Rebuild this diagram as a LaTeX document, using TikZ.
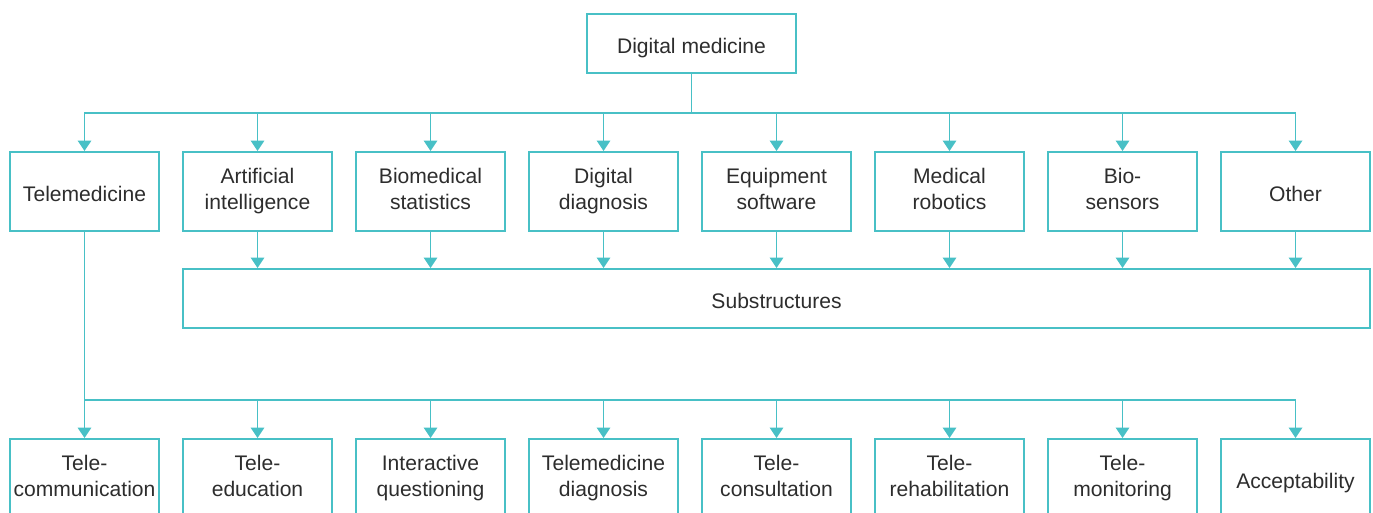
\documentclass[tikz,border=0pt]{standalone}
\usepackage{fontspec}
\setmainfont{Liberation Sans}
\usetikzlibrary{arrows.meta}
\definecolor{teal}{RGB}{72,192,198}
\definecolor{ink}{RGB}{45,45,45}
\newcommand{\boxstrut}{\rule[-3.2pt]{0pt}{17.9pt}}

\begin{document}
\begin{tikzpicture}[
    box/.style={draw=teal, line width=1.1pt, text=ink, align=center, inner sep=0pt,
        minimum width=2.98cm, minimum height=1.58cm,
        font=\fontsize{12}{14.8}\selectfont,
        execute at begin node=\boxstrut, execute at end node=\boxstrut},
    wide/.style={box, minimum height=1.18cm},
    link/.style={draw=teal, line width=1pt},
    tip/.style={link, -{Triangle[width=0.27cm, length=0.21cm]}}]
    \useasboundingbox (0, 0) rectangle (27.46, 10.24);

    \path (13.83, 9.37) node [wide, minimum width=4.18cm] (dm) {Digital medicine};

    \path (1.69, 6.41) node [box] (tm) {Telemedicine};
    \path (5.15, 6.41) node [box] (ai) {Artificial\\intelligence};
    \path (8.61, 6.41) node [box] (bs) {Biomedical\\statistics};
    \path (12.07, 6.41) node [box] (dd) {Digital\\diagnosis};
    \path (15.53, 6.41) node [box] (es) {Equipment\\software};
    \path (18.99, 6.41) node [box] (mr) {Medical\\robotics};
    \path (22.45, 6.41) node [box] (bi) {Bio-\\sensors};
    \path (25.91, 6.41) node [box] (ot) {Other};

    \path (15.53, 4.27) node [wide, minimum width=23.74cm] (sub) {Substructures};

    \path (1.69, 0.67) node [box] (tc) {Tele-\\communication};
    \path (5.15, 0.67) node [box] (te) {Tele-\\education};
    \path (8.61, 0.67) node [box] (iq) {Interactive\\questioning};
    \path (12.07, 0.67) node [box] (td) {Telemedicine\\diagnosis};
    \path (15.53, 0.67) node [box] (tcs) {Tele-\\consultation};
    \path (18.99, 0.67) node [box] (tr) {Tele-\\rehabilitation};
    \path (22.45, 0.67) node [box] (tmo) {Tele-\\monitoring};
    \path (25.91, 0.67) node [box] (ac) {Acceptability};

    % top level split
    \coordinate (bus) at (13.83, 7.98);
    \draw [link] (dm) -- (bus);
    \draw [tip] (bus) -| (tm.north);
    \draw [tip] (bus) -| (ai.north);
    \draw [tip] (bus) -| (bs.north);
    \draw [tip] (bus) -| (dd.north);
    \draw [tip] (bus) -| (es.north);
    \draw [tip] (bus) -| (mr.north);
    \draw [tip] (bus) -| (bi.north);
    \draw [tip] (bus) -| (ot.north);

    % into substructures
    \draw [tip] (ai) -- (ai |- sub.north);
    \draw [tip] (bs) -- (bs |- sub.north);
    \draw [tip] (dd) -- (dd |- sub.north);
    \draw [tip] (es) -- (es |- sub.north);
    \draw [tip] (mr) -- (mr |- sub.north);
    \draw [tip] (bi) -- (bi |- sub.north);
    \draw [tip] (ot) -- (ot |- sub.north);

    % telemedicine branches
    \coordinate (lbus) at (1.69, 2.24);
    \draw [link] (tm) -- (lbus);
    \draw [tip] (lbus) -- (tc.north);
    \draw [tip] (lbus) -| (te.north);
    \draw [tip] (lbus) -| (iq.north);
    \draw [tip] (lbus) -| (td.north);
    \draw [tip] (lbus) -| (tcs.north);
    \draw [tip] (lbus) -| (tr.north);
    \draw [tip] (lbus) -| (tmo.north);
    \draw [tip] (lbus) -| (ac.north);
\end{tikzpicture}
\end{document}
